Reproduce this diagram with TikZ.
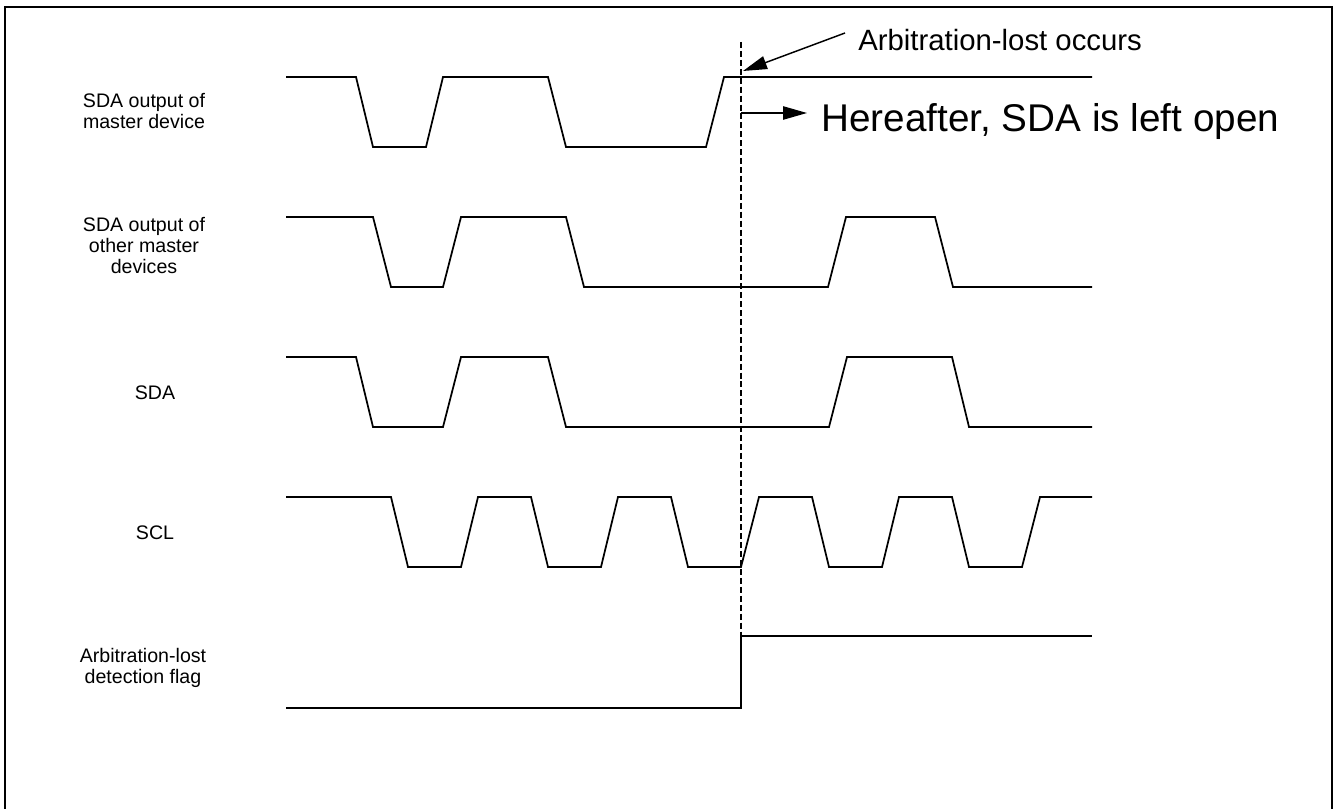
\documentclass[tikz,border=0pt]{standalone}
\usepackage{fontspec}
\setmainfont{Liberation Sans}
\usetikzlibrary{arrows.meta}
\begin{document}
\begin{tikzpicture}[x=0.75pt,y=-0.75pt,
  wave/.style={line width=1.3pt,line join=miter},
  frame/.style={line width=1.6pt},
  marker/.style={line width=1.8pt,dash pattern=on 4.5pt off 2.2pt},
  callout/.style={line width=1.1pt,-{Triangle[length=18pt,width=10pt]}},
  siglabel/.style={align=center,font=\fontsize{14.7}{15.75}\selectfont,inner sep=0pt},
  note/.style={anchor=west,inner sep=0pt}]
\useasboundingbox (0,0) rectangle (1338,809);
\draw[frame] (5,830) -- (5,7) -- (1332,7) -- (1332,830);

% labels
\node[siglabel] (l1) at (144,111) {SDA output of\\master device};
\node[siglabel] (l2) at (144,246) {SDA output of\\other master\\devices};
\node[siglabel] (l3) at (155,393) {SDA};
\node[siglabel] (l4) at (155,533) {SCL};
\node[siglabel] (l5) at (143,668) {Arbitration-lost\\detection flag};

% waveforms
\draw[wave] (286,77)--(356,77)--(373,147)--(426,147)--(443,77)--(548,77)--(566,147)--(706,147)--(724,77)--(1092,77);
\draw[wave] (286,217)--(373,217)--(391,287)--(443,287)--(461,217)--(566,217)--(584,287)--(828,287)--(846,217)--(935,217)--(953,287)--(1092,287);
\draw[wave] (286,357)--(356,357)--(373,427)--(443,427)--(461,357)--(548,357)--(566,427)--(829,427)--(847,357)--(952,357)--(969,427)--(1092,427);
\draw[wave] (286,497)--(391,497)--(408,567)--(461,567)--(478,497)--(531,497)--(548,567)--(601,567)--(618,497)--(671,497)--(688,567)--(741,567)--(759,497)--(812,497)--(829,567)--(882,567)--(899,497)--(952,497)--(969,567)--(1022,567)--(1040,497)--(1092,497);
\draw[wave] (286,708)--(741,708)--(741,636)--(1092,636);

% marker line
\coordinate (mtop) at (741,42);
\coordinate (mbot) at (741,708);
\draw[marker] (mtop) -- (mbot);

% callouts
\node[note,font=\fontsize{22}{24}\selectfont] (t1) at (858,40) {Arbitration-lost occurs};
\node[note,font=\fontsize{29}{31}\selectfont] (t2) at (821,122) {Hereafter, SDA is left open};
\coordinate (a1s) at (845,33);
\coordinate (a1e) at (743,71);
\coordinate (a2s) at (741,113);
\coordinate (a2e) at (807,113);
\draw[callout] (a1s) -- (a1e);
\draw[callout] (a2s) -- (a2e);
\end{tikzpicture}
\end{document}
